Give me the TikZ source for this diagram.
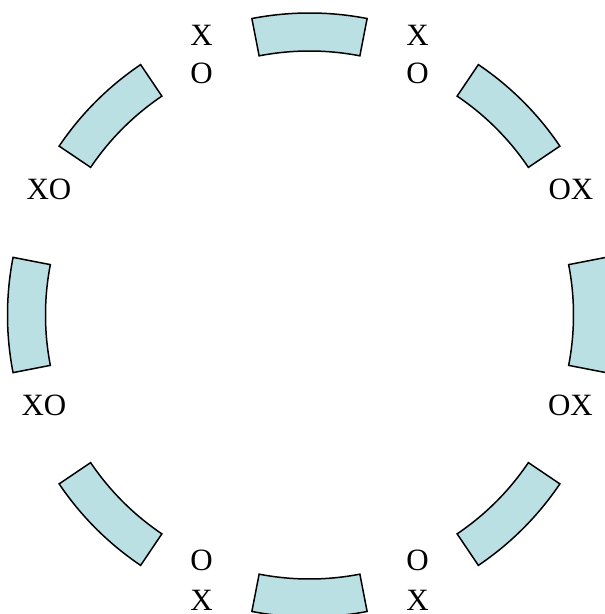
\documentclass[tikz,border=0pt]{standalone}
\usepackage{fontspec}
\setmainfont{Liberation Serif}
\definecolor{segfill}{RGB}{187,224,227}
\begin{document}
\begin{tikzpicture}[x=1pt,y=1pt,
  seg/.style={draw=black,fill=segfill,line width=1.5pt,line join=miter},
  lbl/.style={font=\fontsize{31}{31}\selectfont,anchor=base,inner sep=0pt}]
\useasboundingbox (0,0) rectangle (605,614);
\clip (0,0) rectangle (605,614);
\foreach \a in {0,45,...,315}{
  \draw[seg,shift={(309.5,299)}] (\a-11:302) arc[start angle=\a-11,end angle=\a+11,radius=302]
     -- (\a+11:264) arc[start angle=\a+11,end angle=\a-11,radius=264] -- cycle;
}
% top labels
\node[lbl] (tlx) at (201.5,568.3) {X};
\node[lbl] (tlo) at (201.5,530) {O};
\node[lbl] (trx) at (417.5,568.3) {X};
\node[lbl] (tro) at (417.5,530) {O};
% side labels
\node[lbl] (ulxo) at (49,414) {XO};
\node[lbl] (urox) at (571,414) {OX};
\node[lbl] (llxo) at (44,198.3) {XO};
\node[lbl] (lrox) at (570.5,198.3) {OX};
% bottom labels
\node[lbl] (blo) at (201.5,43.5) {O};
\node[lbl] (blx) at (201.5,3.5) {X};
\node[lbl] (bro) at (417.5,43.5) {O};
\node[lbl] (brx) at (417.5,3.5) {X};
\end{tikzpicture}
\end{document}
